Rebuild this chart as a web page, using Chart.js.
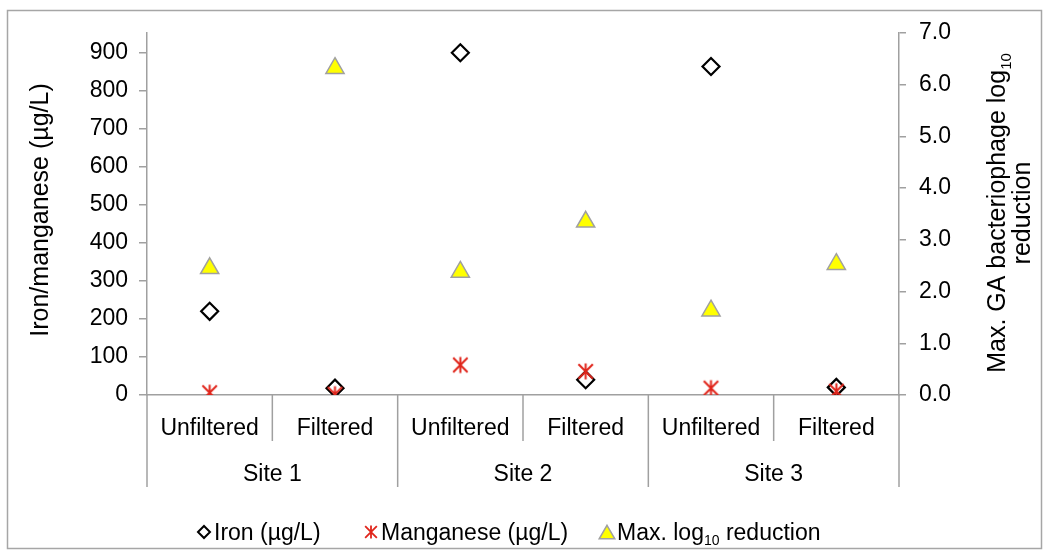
<!DOCTYPE html>
<html><head><meta charset="utf-8">
<script src="https://cdn.jsdelivr.net/npm/chart.js@4.4.1/dist/chart.umd.min.js"></script>
<style>html,body{margin:0;padding:0;background:#fff;}#wrap{width:1049px;height:559px;position:relative;}</style>
</head><body><div id="wrap"><canvas id="c" width="1049" height="559"></canvas></div>
<script>
const categories = ['Unfiltered','Filtered','Unfiltered','Filtered','Unfiltered','Filtered'];
const sites = ['Site 1','Site 2','Site 3'];
const ironValues = [220, 18, 900, 40, 864, 20];
const manganeseValues = [6, 2, 79, 62, 18, 10];
const logReductionValues = [2.45, 6.32, 2.38, 3.35, 1.63, 2.53];
const leftTicks = [0, 100, 200, 300, 400, 500, 600, 700, 800, 900];
const rightTicks = [0, 1, 2, 3, 4, 5, 6, 7];
const leftTitle = 'Iron/manganese (µg/L)';
const rightTitle1 = ['Max. GA bacteriophage log', '10'];
const rightTitle2 = 'reduction';
const legendLabels = [['Iron (µg/L)'], ['Manganese (µg/L)'], ['Max. log', '10', ' reduction']];

const FONT = '"Liberation Sans", Arial, sans-serif';
const AXIS = '#a0a0a0';
const RED = '#e0251b';

function makeStar(size, lw) {
  const c = document.createElement('canvas');
  c.width = size; c.height = size;
  const g = c.getContext('2d');
  g.strokeStyle = RED; g.lineWidth = lw; g.lineCap = 'butt';
  const m = size / 2, a = size / 2 - 1.5;
  const d = a * 0.9;
  g.beginPath();
  g.moveTo(m, m - a); g.lineTo(m, m + a);
  g.moveTo(m - d, m - d); g.lineTo(m + d, m + d);
  g.moveTo(m + d, m - d); g.lineTo(m - d, m + d);
  g.stroke();
  return c;
}
const starPoint = makeStar(19, 2);
const starLegend = makeStar(16, 1.8);

function drawDiamond(ctx, x, y, r, lw) {
  ctx.save(); ctx.strokeStyle = '#000'; ctx.lineWidth = lw;
  ctx.beginPath(); ctx.moveTo(x - r, y); ctx.lineTo(x, y - r); ctx.lineTo(x + r, y); ctx.lineTo(x, y + r); ctx.closePath();
  ctx.stroke(); ctx.restore();
}
function drawTri(ctx, x, y, r) {
  ctx.save(); ctx.fillStyle = '#ffff00'; ctx.strokeStyle = AXIS; ctx.lineWidth = 1.5;
  const h = r * 0.866;
  ctx.beginPath(); ctx.moveTo(x, y - r * 0.75); ctx.lineTo(x + h, y + r * 0.75); ctx.lineTo(x - h, y + r * 0.75); ctx.closePath();
  ctx.fill(); ctx.stroke(); ctx.restore();
}

const decor = {
  id: 'decor',
  beforeDraw(chart) {
    const ctx = chart.ctx;
    ctx.save(); ctx.fillStyle = '#fff'; ctx.fillRect(0, 0, chart.width, chart.height); ctx.restore();
  },
  afterDraw(chart) {
    const ctx = chart.ctx, xs = chart.scales.x, area = chart.chartArea;
    ctx.save();
    ctx.strokeStyle = '#a6a6a6'; ctx.lineWidth = 1.5;
    ctx.strokeRect(7.5, 10.5, 1034, 538);
    const n = categories.length, per = n / sites.length;
    const half = (xs.getPixelForValue(1) - xs.getPixelForValue(0)) / 2;
    ctx.strokeStyle = AXIS; ctx.lineWidth = 1.5;
    for (let i = 0; i <= n; i++) {
      const px = i < n ? xs.getPixelForValue(i) - half : xs.getPixelForValue(n - 1) + half;
      const isSite = i % per === 0;
      ctx.beginPath(); ctx.moveTo(px, area.bottom); ctx.lineTo(px, isSite ? 487 : 441); ctx.stroke();
    }
    ctx.fillStyle = '#000'; ctx.textAlign = 'center'; ctx.textBaseline = 'alphabetic';
    ctx.font = '23px ' + FONT;
    categories.forEach((c, i) => ctx.fillText(c, xs.getPixelForValue(i), 435));
    sites.forEach((s, j) => {
      const a = xs.getPixelForValue(j * per), b = xs.getPixelForValue(j * per + per - 1);
      ctx.fillText(s, (a + b) / 2, 481);
    });
    ctx.save();
    ctx.translate(48, 210); ctx.rotate(-Math.PI / 2);
    ctx.font = '25px ' + FONT; ctx.textAlign = 'center';
    ctx.fillText(leftTitle, 0, 0);
    ctx.restore();
    ctx.save();
    ctx.translate(1005, 213); ctx.rotate(-Math.PI / 2);
    ctx.font = '25px ' + FONT;
    const w1 = ctx.measureText(rightTitle1[0]).width;
    ctx.font = '15px ' + FONT;
    const w1s = ctx.measureText(rightTitle1[1]).width;
    let sx = -(w1 + w1s) / 2;
    ctx.textAlign = 'left';
    ctx.font = '25px ' + FONT; ctx.fillText(rightTitle1[0], sx, 0);
    ctx.font = '15px ' + FONT; ctx.fillText(rightTitle1[1], sx + w1, 6);
    ctx.font = '25px ' + FONT; ctx.textAlign = 'center';
    ctx.fillText(rightTitle2, 0, 25);
    ctx.restore();
    const ly = 532, base = 540;
    const markerX = [204, 371, 607];
    ctx.textAlign = 'left';
    legendLabels.forEach((parts, i) => {
      const mx = markerX[i];
      if (i === 0) drawDiamond(ctx, mx, ly, 6, 2);
      else if (i === 1) ctx.drawImage(starLegend, mx - 8, ly - 8);
      else drawTri(ctx, mx, ly, 9);
      let tx = mx + 10;
      parts.forEach((p, k) => {
        const sub = (parts.length === 3 && k === 1);
        ctx.font = (sub ? '14px ' : '23px ') + FONT;
        ctx.fillText(p, tx, sub ? base + 5 : base);
        tx += ctx.measureText(p).width;
      });
    });
    ctx.restore();
  }
};

new Chart(document.getElementById('c'), {
  type: 'line',
  data: {
    labels: categories,
    datasets: [
      { label: 'Iron (µg/L)', data: ironValues, yAxisID: 'y', showLine: false, order: 2,
        pointStyle: 'rectRot', pointRadius: 8.5, pointBorderWidth: 2.2, pointBorderColor: '#000', pointBackgroundColor: 'rgba(0,0,0,0)' },
      { label: 'Manganese (µg/L)', data: manganeseValues, yAxisID: 'y', showLine: false, order: 1,
        pointStyle: starPoint, pointRadius: 9 },
      { label: 'Max. log10 reduction', data: logReductionValues, yAxisID: 'y2', showLine: false, order: 3,
        pointStyle: 'triangle', pointRadius: 10.5, pointBorderWidth: 1.5, pointBorderColor: AXIS, pointBackgroundColor: '#ffff00' }
    ]
  },
  options: {
    responsive: false, animation: false, events: [],
    layout: { padding: { top: 33, left: 0, right: 0, bottom: 0 } },
    plugins: { legend: { display: false }, tooltip: { enabled: false } },
    scales: {
      x: {
        type: 'category', offset: true,
        grid: { display: false },
        border: { display: true, color: AXIS, width: 1.5 },
        ticks: { display: false },
        afterFit(s) { s.height = 164; }
      },
      y: {
        position: 'left', min: 0, max: 952,
        afterBuildTicks(s) { s.ticks = leftTicks.map(v => ({ value: v })); },
        grid: { drawOnChartArea: false, drawTicks: true, tickLength: 8, color: AXIS, lineWidth: 1.5 },
        border: { display: true, color: AXIS, width: 1.5 },
        ticks: { color: '#000', font: { family: FONT, size: 23 }, padding: 11 },
        afterFit(s) { s.width = 147; }
      },
      y2: {
        position: 'right', min: 0, max: 7,
        afterBuildTicks(s) { s.ticks = rightTicks.map(v => ({ value: v })); },
        grid: { drawOnChartArea: false, drawTicks: true, tickLength: 7, color: AXIS, lineWidth: 1.5 },
        border: { display: true, color: AXIS, width: 1.5 },
        ticks: { color: '#000', font: { family: FONT, size: 23 }, padding: 13, callback: v => Number(v).toFixed(1) },
        afterFit(s) { s.width = 150; }
      }
    }
  },
  plugins: [decor]
});
</script>
</body></html>
